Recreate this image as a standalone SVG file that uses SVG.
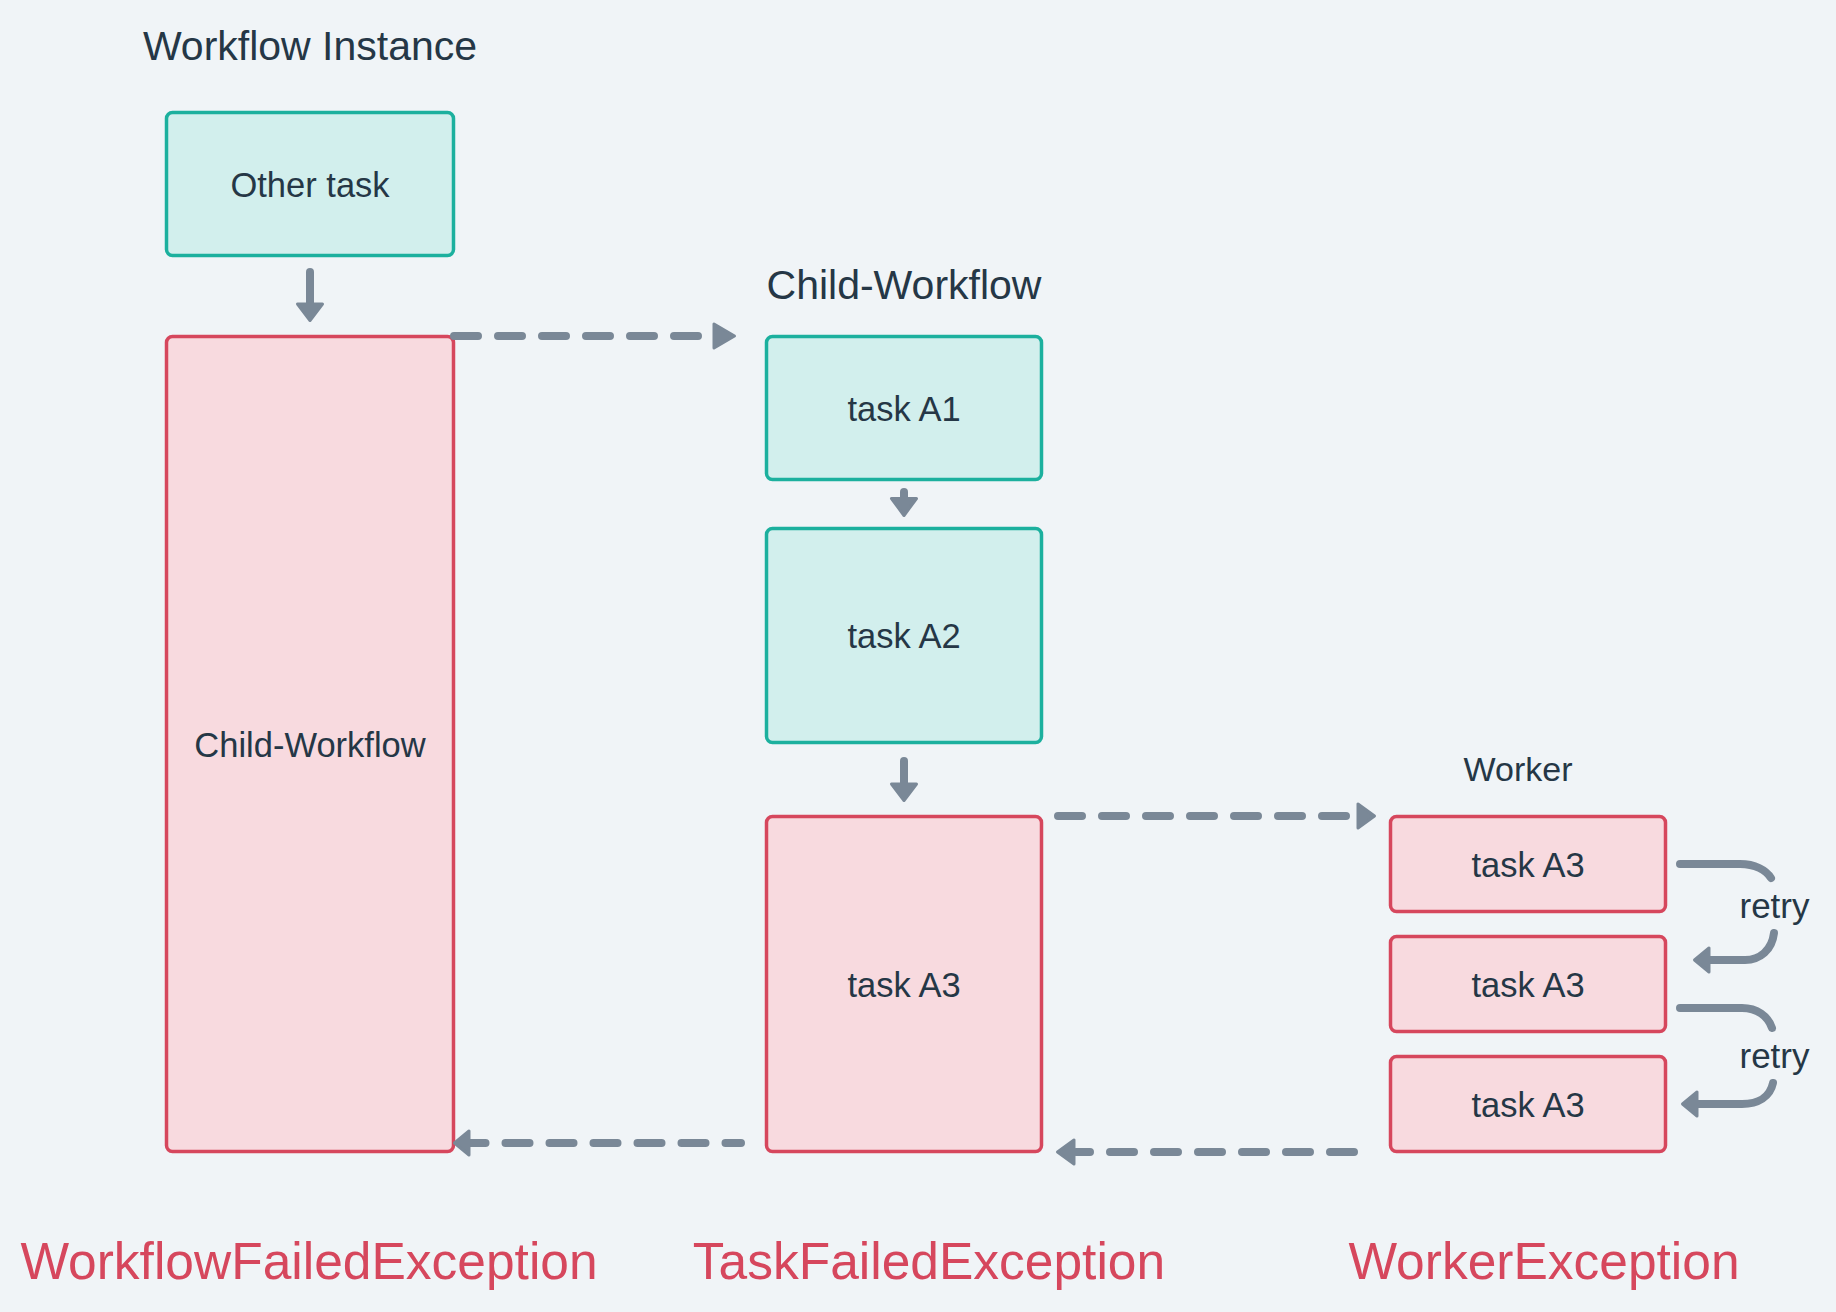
<svg xmlns="http://www.w3.org/2000/svg" width="1836" height="1312" viewBox="0 0 1836 1312">
<style>
.bg{fill:#f0f4f7}
.ok{fill:#d2efed;stroke:#1cb09e;stroke-width:3.5}
.bad{fill:#f8dadf;stroke:#d6475d;stroke-width:3.5}
text{font-family:"Liberation Sans",Arial,sans-serif;fill:#253746}
.title{font-size:41px}
.lbl{font-size:34.5px;text-anchor:middle}
.exc{font-size:51.5px;fill:#d6475d;text-anchor:middle}
.ln{fill:none;stroke:#7a8897;stroke-width:8;stroke-linecap:round}
.dash{stroke-dasharray:24 20}
.hd{fill:#7a8897;stroke:#7a8897;stroke-width:3;stroke-linejoin:round}
</style>
<rect class="bg" x="0" y="0" width="1836" height="1312"/>
<text class="title" x="310" y="60" text-anchor="middle">Workflow Instance</text>
<text class="title" x="904" y="299" text-anchor="middle">Child-Workflow</text>
<text class="lbl" x="1518" y="781" style="font-size:34px">Worker</text>
<g id="other-task"><rect class="ok" x="166.5" y="112.5" width="287" height="143" rx="6"/><text class="lbl" x="310" y="197">Other task</text></g>
<g id="child-workflow"><rect class="bad" x="166.5" y="336.5" width="287" height="815" rx="6"/><text class="lbl" x="310" y="757">Child-Workflow</text></g>
<g id="task-a1"><rect class="ok" x="766.5" y="336.5" width="275" height="143" rx="6"/><text class="lbl" x="904" y="421">task A1</text></g>
<g id="task-a2"><rect class="ok" x="766.5" y="528.5" width="275" height="214" rx="6"/><text class="lbl" x="904" y="648">task A2</text></g>
<g id="task-a3"><rect class="bad" x="766.5" y="816.5" width="275" height="335" rx="6"/><text class="lbl" x="904" y="997">task A3</text></g>
<g id="worker-a3-1"><rect class="bad" x="1390.5" y="816.5" width="275" height="95" rx="6"/><text class="lbl" x="1528" y="877">task A3</text></g>
<g id="worker-a3-2"><rect class="bad" x="1390.5" y="936.5" width="275" height="95" rx="6"/><text class="lbl" x="1528" y="997">task A3</text></g>
<g id="worker-a3-3"><rect class="bad" x="1390.5" y="1056.5" width="275" height="95" rx="6"/><text class="lbl" x="1528" y="1117">task A3</text></g>
<g id="connectors">
<path class="ln" d="M310 272 V304"/><polygon class="hd" points="297.5,304 322.5,304 310,320.5"/>
<path class="ln" d="M904 492 V499"/><polygon class="hd" points="891.5,498.5 916.5,498.5 904,515.5"/>
<path class="ln" d="M904 761 V784"/><polygon class="hd" points="891.5,784 916.5,784 904,800.5"/>
<path class="ln dash" d="M454 336 H712"/><polygon class="hd" points="714,324 714,348 734.5,336"/>
<path class="ln dash" d="M1058 816 H1356"/><polygon class="hd" points="1358,804 1358,828 1374.5,816"/>
<path class="ln dash" d="M1354 1152 H1076"/><polygon class="hd" points="1074,1140 1074,1164 1057.5,1152"/>
<path class="ln dash" d="M461.5 1143 H741"/><polygon class="hd" points="469,1131 469,1155 454.5,1143"/>
<path class="ln" d="M1680 864 H1740 C1755 864 1766 870 1771 878"/>
<path class="ln" d="M1774 933 C1772 950 1760 960 1745 960 H1710"/><polygon class="hd" points="1709,948 1709,972 1694.5,960"/>
<path class="ln" d="M1680 1008 H1742 C1757 1008 1768 1016 1772 1028"/>
<path class="ln" d="M1773 1083 C1770 1097 1758 1104 1742 1104 H1698"/><polygon class="hd" points="1697,1092 1697,1116 1682.5,1104"/>
<text class="lbl" x="1774.5" y="918" style="font-size:35px">retry</text>
<text class="lbl" x="1774.5" y="1068" style="font-size:35px">retry</text>
</g>
<text class="exc" x="309" y="1279">WorkflowFailedException</text>
<text class="exc" x="929" y="1279">TaskFailedException</text>
<text class="exc" x="1544" y="1279">WorkerException</text>
</svg>
